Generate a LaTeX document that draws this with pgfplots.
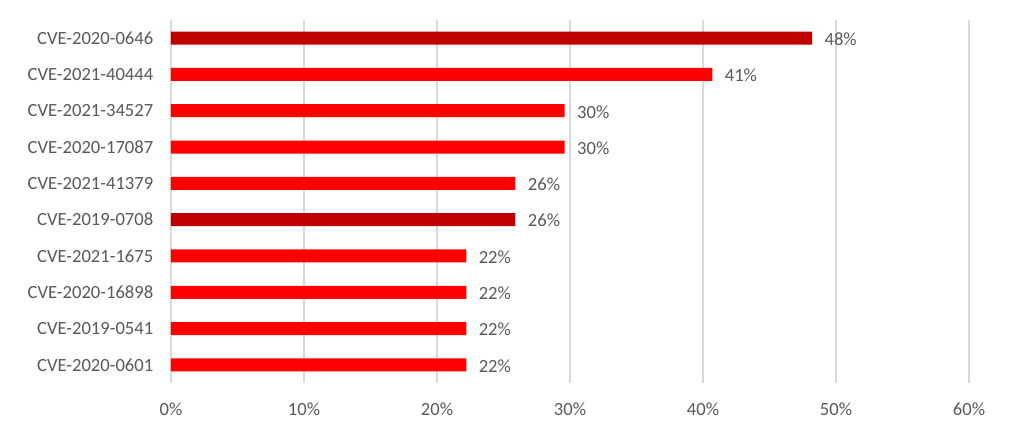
\documentclass[border=0pt]{standalone}
\usepackage{pgfplots}
\pgfplotsset{compat=1.18}
\usepackage{fontspec}
\setmainfont{Carlito}
\definecolor{darkred}{HTML}{C00000}
\definecolor{brightred}{HTML}{FF0000}
\definecolor{gridgray}{HTML}{D9D9D9}
\definecolor{txtgray}{HTML}{595959}
\begin{document}
\begin{tikzpicture}
\useasboundingbox (-171bp,-51bp) rectangle (843bp,383bp);
\begin{axis}[
  at={(0,0)}, anchor=south west,
  scale only axis,
  width=798bp, height=363bp,
  xmin=0, xmax=60,
  ymin=-0.5, ymax=9.5,
  y dir=reverse,
  xbar, bar width=13bp,
  xtick={0,10,20,30,40,50,60},
  xticklabels={0\%,10\%,20\%,30\%,40\%,50\%,60\%},
  ytick={0,1,2,3,4,5,6,7,8,9},
  yticklabels={CVE-2020-0646,CVE-2021-40444,CVE-2021-34527,CVE-2020-17087,CVE-2021-41379,CVE-2019-0708,CVE-2021-1675,CVE-2020-16898,CVE-2019-0541,CVE-2020-0601},
  xmajorgrids, major grid style={gridgray, line width=1.3bp},
  axis line style={draw=none},
  tick style={draw=none},
  ticklabel style={font=\fontsize{18.6bp}{22bp}\selectfont, text=txtgray},
  xticklabel style={yshift=-16bp},
  yticklabel style={xshift=-10bp},
  /pgf/number format/assume math mode=true,
  point meta=x,
  nodes near coords={\pgfmathprintnumber[fixed,precision=0]{\pgfplotspointmeta}\%},
  nodes near coords style={font=\fontsize{18.6bp}{22bp}\selectfont, text=txtgray, anchor=west, xshift=9bp, yshift=-1bp},
  clip=false,
]
\addplot[fill=brightred, draw=none, bar shift=0pt] coordinates {
  (40.7,1) (29.6,2) (29.6,3) (25.9,4) (22.2,6) (22.2,7) (22.2,8) (22.2,9)
};
\addplot[fill=darkred, draw=none, bar shift=0pt] coordinates {
  (48.2,0) (25.9,5)
};
\end{axis}
\end{tikzpicture}
\end{document}
